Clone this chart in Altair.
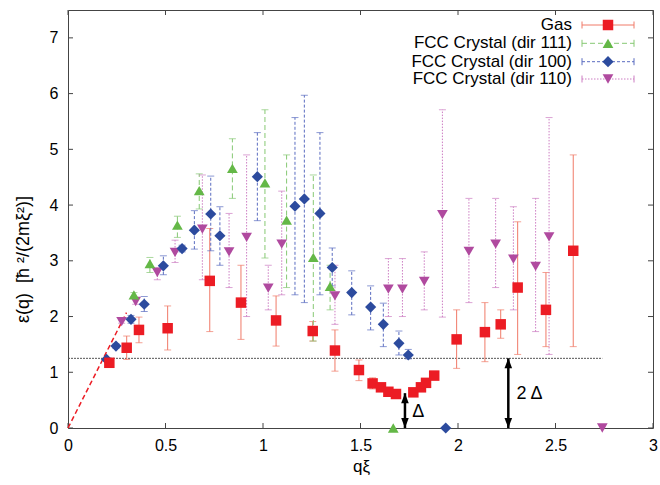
import altair as alt
import pandas as pd

# ---------------- data ----------------
# Gas phase: excitation energy with error bars
gas_q = [0.212, 0.301, 0.364, 0.511, 0.727, 0.887, 1.067, 1.255, 1.369, 1.492, 1.562, 1.605,
         1.643, 1.682, 1.771, 1.810, 1.836, 1.878, 1.993, 2.138, 2.219, 2.306, 2.451, 2.591]
gas_e = [1.17, 1.44, 1.76, 1.79, 2.64, 2.25, 1.93, 1.74, 1.39, 1.04, 0.80, 0.73,
         0.65, 0.61, 0.64, 0.73, 0.81, 0.94, 1.59, 1.72, 1.86, 2.52, 2.12, 3.18]
gas_lo = [1.13, 1.23, 1.53, 1.40, 1.73, 1.59, 1.47, 1.56, 1.02, 0.85, 0.70, 0.70,
          0.62, 0.58, 0.61, 0.70, 0.78, 0.90, 1.07, 1.19, 1.61, 1.32, 1.46, 1.46]
gas_hi = [1.21, 1.65, 1.99, 2.19, 3.58, 2.92, 2.37, 1.91, 1.76, 1.22, 0.90, 0.77,
          0.68, 0.64, 0.67, 0.77, 0.84, 0.98, 2.12, 2.25, 2.12, 3.70, 2.79, 4.90]

# FCC crystal, direction 111
c111_q = [0.338, 0.420, 0.561, 0.673, 0.843, 1.010, 1.121, 1.258, 1.344, 1.668]
c111_e = [2.39, 2.95, 3.64, 4.26, 4.66, 4.40, 3.73, 3.06, 2.54, 0.0]
c111_lo = [2.35, 2.79, 3.42, 3.93, 4.12, 3.05, 2.52, 1.56, 2.12, 0.0]
c111_hi = [2.43, 3.06, 3.80, 4.56, 5.19, 5.71, 4.90, 4.54, 2.92, 0.0]

# FCC crystal, direction 100
c100_q = [0.198, 0.246, 0.323, 0.391, 0.489, 0.585, 0.648, 0.732, 0.779, 0.971,
          1.164, 1.212, 1.292, 1.355, 1.455, 1.552, 1.617, 1.697, 1.745, 1.937]
c100_e = [1.23, 1.47, 1.95, 2.22, 2.91, 3.22, 3.55, 3.84, 3.45, 4.51,
          3.98, 4.11, 3.85, 2.88, 2.43, 2.17, 1.86, 1.52, 1.31, 0.0]
c100_lo = [1.20, 1.43, 1.88, 2.09, 2.75, 3.16, 3.21, 3.18, 2.92, 3.72,
           2.39, 2.25, 2.39, 2.55, 2.03, 1.76, 1.46, 1.31, 1.24, 0.0]
c100_hi = [1.26, 1.51, 2.02, 2.36, 3.09, 3.28, 3.90, 4.52, 3.97, 5.30,
           5.57, 5.97, 5.30, 3.23, 2.82, 2.55, 2.24, 1.74, 1.41, 0.0]

# FCC crystal, direction 110
c110_q = [0.275, 0.347, 0.458, 0.549, 0.689, 0.826, 0.916, 1.027, 1.096, 1.369,
          1.643, 1.715, 1.827, 1.920, 2.056, 2.193, 2.284, 2.398, 2.467, 2.740]
c110_e = [1.91, 2.27, 2.79, 3.15, 3.57, 3.16, 3.42, 2.51, 3.30, 2.37,
          2.49, 2.49, 2.63, 3.83, 3.17, 3.30, 3.03, 2.90, 3.43, 0.0]
c110_lo = [1.88, 2.22, 2.66, 2.97, 2.66, 2.52, 2.00, 2.12, 2.39, 1.86,
           2.00, 2.00, 2.12, 1.99, 2.25, 2.52, 2.12, 1.73, 1.32, 0.0]
c110_hi = [1.94, 2.32, 2.88, 3.37, 4.54, 3.85, 4.90, 2.92, 4.25, 2.92,
           3.04, 3.04, 3.16, 5.71, 4.12, 4.12, 3.97, 4.12, 5.57, 0.0]

# linear (phonon) branch at small q
phonon_q = [0.0, 0.30]
phonon_e = [0.0, 2.07]

# roton gap and its double
gap = 0.625
gap_line_q = [0.0, 2.74]
gap_arrow_q = [1.728, 2.258]
gap_arrow_top = [gap, 2 * gap]
gap_labels = ["Δ", "2 Δ"]
gap_label_q = [1.765, 2.30]
gap_label_e = [0.29, 0.61]

x_ticks = [0, 0.5, 1, 1.5, 2, 2.5, 3]
y_ticks = [0, 1, 2, 3, 4, 5, 6, 7]

# ---------------- layout ----------------
W, H = 585, 418
FONT = "Liberation Sans"
FRAME = "#444444"

xs = alt.Scale(domain=[0, 3], nice=False, zero=False)
ys = alt.Scale(domain=[0, 7.5], nice=False, zero=False)

X_AXIS = alt.Axis(values=x_ticks, format="~g", ticks=False, tickSize=0, domain=False,
                  grid=False, labelFlush=False, labelPadding=9, labelFontSize=16,
                  titleFontSize=17, titleFontWeight="normal", titleX=293, titleY=38,
                  titleBaseline="middle")
Y_AXIS = alt.Axis(values=y_ticks, format="d", ticks=False, tickSize=0, domain=False,
                  grid=False, labelFlush=False, labelPadding=10, labelFontSize=16,
                  titleFontSize=18, titleFontWeight="normal", titleX=-45, titleY=249,
                  titleAlign="center", titleBaseline="middle")
X_TITLE = "qξ"
Y_TITLE = "ε(q)\u00a0\u00a0[ħ\u00a0²/(2mξ²)]"


def xq(field="q"):
    return alt.X(f"{field}:Q", scale=xs, axis=X_AXIS, title=X_TITLE)


def ye(field="e"):
    return alt.Y(f"{field}:Q", scale=ys, axis=Y_AXIS, title=Y_TITLE)


series = [
    # name, q, e, lo, hi, marker, bar colour, marker colour, dash, marker size
    ("Gas", gas_q, gas_e, gas_lo, gas_hi, "square", "#f07a68", "#ec1c24", None, 110),
    ("FCC Crystal (dir 111)", c111_q, c111_e, c111_lo, c111_hi, "triangle-up", "#86c873", "#64b847", [5, 3], 115),
    ("FCC Crystal (dir 100)", c100_q, c100_e, c100_lo, c100_hi, "diamond", "#5a6cc0", "#2c4b9e", [3, 2], 125),
    ("FCC Crystal (dir 110)", c110_q, c110_e, c110_lo, c110_hi, "triangle-down", "#cc7cc2", "#b04a9f", [1.5, 1.5], 115),
]

layers = []

# inward ticks on all four sides
xt = pd.DataFrame({"q": x_ticks})
yt = pd.DataFrame({"e": y_ticks})
layers.append(alt.Chart(xt).mark_rule(color=FRAME, strokeWidth=1).encode(
    x=xq(), y=alt.value(H), y2=alt.value(H - 5)))
layers.append(alt.Chart(xt).mark_rule(color=FRAME, strokeWidth=1).encode(
    x=xq(), y=alt.value(0), y2=alt.value(5)))
layers.append(alt.Chart(yt).mark_rule(color=FRAME, strokeWidth=1).encode(
    y=ye(), x=alt.value(0), x2=alt.value(5)))
layers.append(alt.Chart(yt).mark_rule(color=FRAME, strokeWidth=1).encode(
    y=ye(), x=alt.value(W), x2=alt.value(W - 5)))

# horizontal level at twice the gap
gl = pd.DataFrame({"q": gap_line_q, "e": [2 * gap] * 2})
layers.append(alt.Chart(gl).mark_line(color="#555555", strokeWidth=1, strokeDash=[2, 1]).encode(
    x=xq(), y=ye()))

# phonon line
ph = pd.DataFrame({"q": phonon_q, "e": phonon_e})
layers.append(alt.Chart(ph).mark_line(color="#ec1c24", strokeWidth=1.5, strokeDash=[5, 3]).encode(
    x=xq(), y=ye()))

# error bars
for name, q, e, lo, hi, shape, bcol, mcol, dash, msize in series:
    df = pd.DataFrame({"q": q, "e": e, "lo": lo, "hi": hi})
    df = df[df.hi > df.lo]
    rule_kw = {"color": bcol, "strokeWidth": 1}
    if dash:
        rule_kw["strokeDash"] = dash
    layers.append(alt.Chart(df).mark_rule(**rule_kw).encode(x=xq(), y=ye("lo"), y2="hi:Q"))
    for f in ("lo", "hi"):
        layers.append(alt.Chart(df).mark_tick(color=bcol, orient="horizontal", size=7,
                                              thickness=1).encode(x=xq(), y=ye(f)))

# markers (gas drawn last, on top)
for name, q, e, lo, hi, shape, bcol, mcol, dash, msize in reversed(series):
    df = pd.DataFrame({"q": q, "e": e})
    layers.append(alt.Chart(df).mark_point(shape=shape, filled=True, opacity=1, size=msize,
                                           color=mcol).encode(x=xq(), y=ye()))

# gap arrows
ar = pd.DataFrame({"q": gap_arrow_q, "top": gap_arrow_top, "bot": [0.0, 0.0]})
layers.append(alt.Chart(ar).mark_rule(color="black", strokeWidth=2.5).encode(
    x=xq(), y=ye("bot"), y2="top:Q"))
head_up = "M0,0L0.38,1L-0.38,1Z"
head_dn = "M0,0L0.38,-1L-0.38,-1Z"
layers.append(alt.Chart(ar).mark_point(shape=head_up, filled=True, opacity=1, size=400,
                                       color="black").encode(x=xq(), y=ye("top")))
layers.append(alt.Chart(ar).mark_point(shape=head_dn, filled=True, opacity=1, size=400,
                                       color="black").encode(x=xq(), y=ye("bot")))
gtxt = pd.DataFrame({"q": gap_label_q, "e": gap_label_e, "t": gap_labels})
layers.append(alt.Chart(gtxt).mark_text(font=FONT, fontSize=18, align="left",
                                        baseline="middle", color="black").encode(
    x=xq(), y=ye(), text="t:N"))

# key in the upper right corner
row_y = [15, 33.3, 51.7, 69]
for (name, q, e, lo, hi, shape, bcol, mcol, dash, msize), yy in zip(series, row_y):
    one = pd.DataFrame({"label": [name]})
    layers.append(alt.Chart(one).mark_text(font=FONT, fontSize=17, align="right",
                                           baseline="middle", color="black").encode(
        text="label:N", x=alt.value(504), y=alt.value(yy)))
    rule_kw = {"color": bcol, "strokeWidth": 1}
    if dash:
        rule_kw["strokeDash"] = dash
    layers.append(alt.Chart(one).mark_rule(**rule_kw).encode(
        x=alt.value(514), x2=alt.value(566), y=alt.value(yy)))
    for xx in (514, 566):
        layers.append(alt.Chart(one).mark_rule(color=bcol, strokeWidth=1).encode(
            x=alt.value(xx), y=alt.value(yy - 3.5), y2=alt.value(yy + 3.5)))
    layers.append(alt.Chart(one).mark_point(shape=shape, filled=True, opacity=1, size=msize,
                                            color=mcol).encode(
        x=alt.value(540), y=alt.value(yy)))

chart = alt.layer(*layers).properties(
    width=W, height=H,
    autosize=alt.AutoSizeParams(type="none"),
    padding={"left": 68, "top": 10, "right": 7, "bottom": 57},
    background="white",
).configure_view(
    stroke=FRAME, strokeWidth=1
).configure_axis(
    labelFont=FONT, titleFont=FONT, labelColor="black", titleColor="black"
)

chart.save("out.html", embed_options={"renderer": "svg", "actions": False})
